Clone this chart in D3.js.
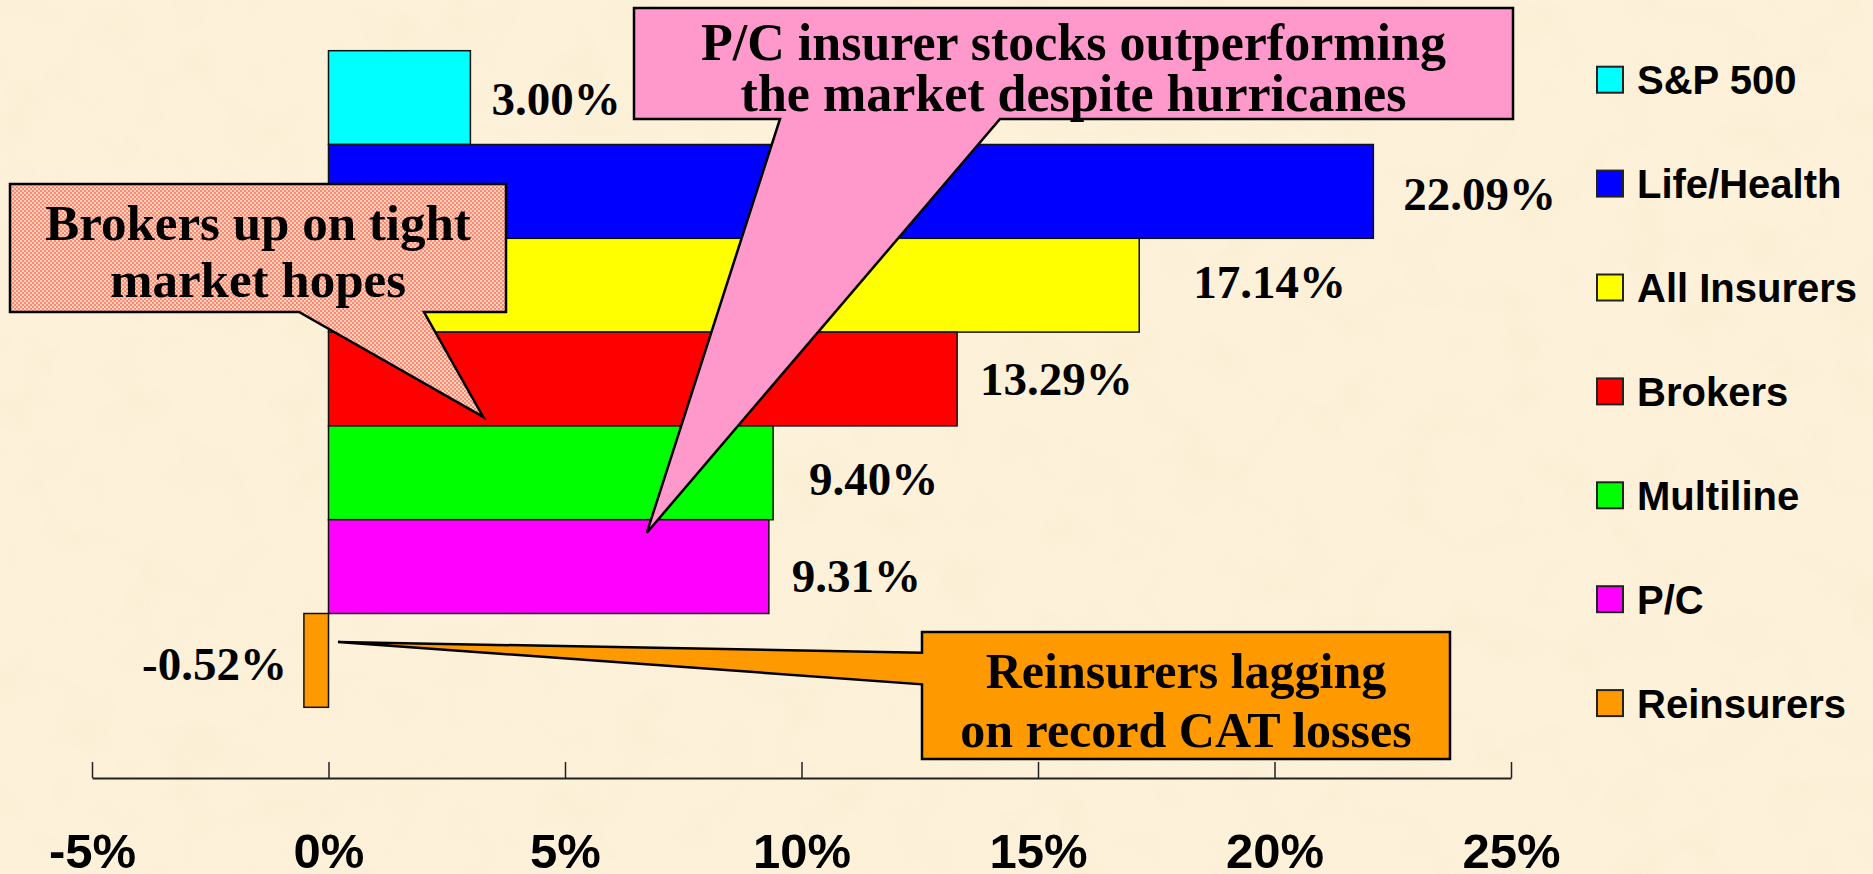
<!DOCTYPE html>
<html>
<head>
<meta charset="utf-8">
<script src="https://cdn.jsdelivr.net/npm/d3@7"></script>
<style>
  html, body { margin: 0; padding: 0; background: #fcefd6; }
  svg { display: block; }
</style>
</head>
<body>
<div id="chart"></div>
<script>

// chart data
const categories = ["S&P 500", "Life/Health", "All Insurers", "Brokers", "Multiline", "P/C", "Reinsurers"];
const returns = [3.00, 22.09, 17.14, 13.29, 9.40, 9.31, -0.52];
const tickValues = [-5, 0, 5, 10, 15, 20, 25];

// callout texts
const pcNote = ["P/C insurer stocks outperforming", "the market despite hurricanes"];
const brokerNote = ["Brokers up on tight", "market hopes"];
const reinsNote = ["Reinsurers lagging", "on record CAT losses"];

// styles
const barColors = ["#00ffff", "#0000ff", "#ffff00", "#ff0000", "#00ff00", "#ff00ff", "#ff9900"];
const serif = "'Liberation Serif', 'Times New Roman', serif";
const sans = "'Liberation Sans', Arial, sans-serif";

const width = 1873, height = 874;

const svg = d3.select("#chart")
  .append("svg")
  .attr("width", width)
  .attr("height", height)
  .attr("viewBox", [0, 0, width, height]);

const defs = svg.append("defs");

// mottled paper background
const paper = defs.append("filter").attr("id", "paper")
  .attr("x", 0).attr("y", 0).attr("width", "100%").attr("height", "100%");
paper.append("feTurbulence")
  .attr("type", "fractalNoise")
  .attr("baseFrequency", "0.018")
  .attr("numOctaves", 3)
  .attr("seed", 7);
paper.append("feColorMatrix")
  .attr("type", "matrix")
  .attr("values", "0 0 0 0 0.93  0 0 0 0 0.86  0 0 0 0 0.62  1.4 0 0 0 -0.55");

// salmon checker fill for the brokers callout
const checker = defs.append("pattern").attr("id", "checker")
  .attr("patternUnits", "userSpaceOnUse")
  .attr("width", 4).attr("height", 4);
checker.append("rect").attr("width", 4).attr("height", 4).attr("fill", "#fb8a6e");
checker.append("rect").attr("width", 2).attr("height", 2).attr("fill", "#fdd0c2");
checker.append("rect").attr("x", 2).attr("y", 2).attr("width", 2).attr("height", 2).attr("fill", "#fdd0c2");

svg.append("rect").attr("width", width).attr("height", height).attr("fill", "#fdf1da");
svg.append("rect").attr("width", width).attr("height", height).attr("filter", "url(#paper)").attr("opacity", 0.6);

// scales
const xScale = d3.scaleLinear()
  .domain([-5, 25])
  .range([92, 1511]);

const yScale = d3.scaleBand()
  .domain(categories)
  .range([50.7, 707.3])
  .padding(0);

// axis: ticks pointing up, labels far below
const axisY = 778;
const xAxis = svg.append("g")
  .attr("transform", `translate(0,${axisY})`)
  .call(d3.axisBottom(xScale)
    .tickValues(tickValues)
    .tickFormat(d => d + "%")
    .tickSizeInner(-16)
    .tickSizeOuter(0)
    .tickPadding(55));
xAxis.select(".domain").attr("stroke", "#222").attr("stroke-width", 2);
xAxis.selectAll(".tick line").attr("stroke", "#222").attr("stroke-width", 1.5);
xAxis.selectAll(".tick text")
  .attr("fill", "#000")
  .attr("font-family", sans)
  .attr("font-weight", "bold")
  .attr("font-size", "49px");

// bars
svg.selectAll(".bar")
  .data(returns)
  .enter()
  .append("rect")
    .attr("class", "bar")
    .attr("x", d => xScale(Math.min(0, d)))
    .attr("y", (d, i) => yScale(categories[i]))
    .attr("width", d => Math.abs(xScale(d) - xScale(0)))
    .attr("height", yScale.bandwidth())
    .attr("fill", (d, i) => barColors[i])
    .attr("stroke", "#111")
    .attr("stroke-width", 1.5);

// value labels (hand placed in the original, so small nudges)
const labelGap = [21, 30, 54, 23, 36, 23, 17];
const labelDy = [17, 19, 13, 16, 22, 25, 20];
svg.selectAll(".value")
  .data(returns)
  .enter()
  .append("text")
    .attr("class", "value")
    .attr("x", (d, i) => d >= 0 ? xScale(d) + labelGap[i] : xScale(d) - labelGap[i])
    .attr("y", (d, i) => yScale(categories[i]) + yScale.bandwidth() / 2 + labelDy[i])
    .attr("text-anchor", d => d >= 0 ? "start" : "end")
    .attr("font-family", serif)
    .attr("font-weight", "bold")
    .attr("font-size", "47px")
    .text(d => d.toFixed(2) + "%");

// callouts: box + wedge pointing at a spot on the chart
function callout(box, base, tip, fill, lines, baselines, fontSize) {
  const [x0, y0, x1, y1] = box;
  let pts;
  if (base.side === "bottom") {
    pts = [[x0, y0], [x1, y0], [x1, y1], [base.b, y1], tip, [base.a, y1], [x0, y1]];
  } else {
    pts = [[x0, y0], [x1, y0], [x1, y1], [x0, y1], [x0, base.b], tip, [x0, base.a]];
  }
  svg.append("path")
    .attr("d", d3.line()(pts) + "Z")
    .attr("fill", fill)
    .attr("stroke", "#000")
    .attr("stroke-width", 2.5)
    .attr("stroke-linejoin", "miter");
  svg.selectAll(null)
    .data(lines)
    .enter()
    .append("text")
      .attr("x", (x0 + x1) / 2)
      .attr("y", (d, i) => baselines[i])
      .attr("text-anchor", "middle")
      .attr("font-family", serif)
      .attr("font-weight", "bold")
      .attr("font-size", fontSize)
      .text(d => d);
}

const band = yScale.bandwidth();

callout([634, 8, 1513, 119], { side: "bottom", a: 780, b: 1000 },
  [xScale(6.73), yScale("P/C") + 13], "#ff99cc", pcNote, [60, 111], "52px");

callout([10, 184, 506, 312], { side: "bottom", a: 299, b: 424 },
  [xScale(3.27), yScale("Brokers") + band - 9], "url(#checker)", brokerNote, [240, 297], "51px");

callout([922, 632, 1450, 759], { side: "left", a: 652.7, b: 684.3 },
  [xScale(0.2), yScale("Reinsurers") + 28.5], "#ff9900", reinsNote, [688, 747], "50px");

// legend
const legend = svg.selectAll(".legend")
  .data(categories)
  .enter()
  .append("g")
    .attr("class", "legend")
    .attr("transform", (d, i) => `translate(1597,${79.7 + i * 103.9})`);

legend.append("rect")
  .attr("x", 0)
  .attr("y", -13)
  .attr("width", 26)
  .attr("height", 26)
  .attr("fill", (d, i) => barColors[i])
  .attr("stroke", "#222")
  .attr("stroke-width", 2);

legend.append("text")
  .attr("x", 40)
  .attr("y", 14.5)
  .attr("font-family", sans)
  .attr("font-weight", "bold")
  .attr("font-size", "40px")
  .text(d => d);

</script>
</body>
</html>
